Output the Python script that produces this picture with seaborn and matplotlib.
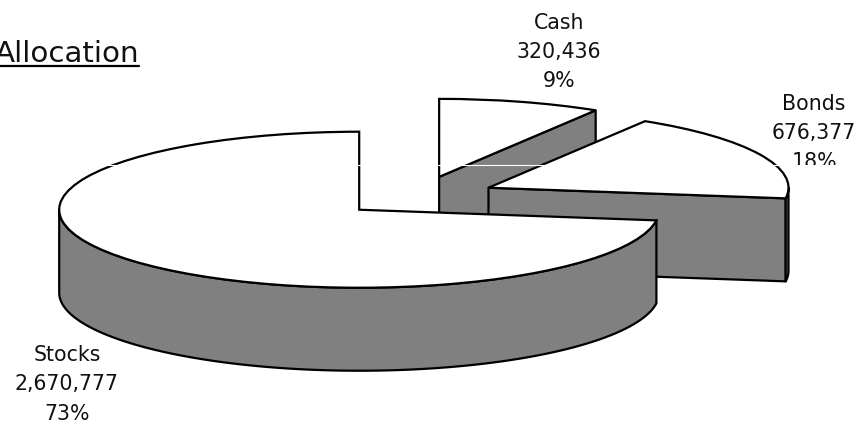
import numpy as np
import matplotlib
matplotlib.use('Agg')
import matplotlib.pyplot as plt
from matplotlib.lines import Line2D
from matplotlib.patches import Polygon
from matplotlib.transforms import Bbox
import seaborn as sns

# Data
names = ['Stocks', 'Bonds', 'Cash']
amounts = [2670777, 676377, 320436]
explode_frac = [0.26, 0.26, 0.26]

# Picture geometry, in pixels
W, H = 857, 421
RX, RY = 300, 78       # radius of the flattened pie
DEPTH = 83             # height of the slab
CX, CY = 418.0, 196.4  # pie centre before the slices move out

# Where each label sits (centre x, centre y)
label_pos = {'Stocks': (67, 384.5), 'Bonds': (814, 133), 'Cash': (559, 52)}

sns.set_theme(style='white')
plt.rcParams['font.family'] = ['DejaVu Sans']

fig = plt.figure(figsize=(W / 100, H / 100), dpi=100)
ax = fig.add_axes([0, 0, 1, 1])

wedges, _ = ax.pie(amounts, explode=explode_frac, startangle=90, radius=1,
                   colors=['white'] * len(amounts),
                   wedgeprops={'edgecolor': 'black', 'linewidth': 1.6})

# Flatten the pie: x and y get their own scale
ax.set_aspect('auto')
ax.set_xlim(-CX / RX, (W - CX) / RX)
ax.set_ylim((CY - H) / RY, CY / RY)
ax.axis('off')

depth = DEPTH / RY
side_style = {'facecolor': '#808080', 'edgecolor': 'black', 'linewidth': 1.6,
              'joinstyle': 'round'}

# Back slices first, so the front ones cover them
for i, wedge in enumerate(wedges):
    z = 2 * (len(wedges) - i)
    wedge.set_zorder(z + 1)
    cx, cy = wedge.center
    t1, t2 = wedge.theta1, wedge.theta2

    # Cut face at the start of the slice, when it looks at the viewer
    if np.sin(np.radians(t1 - 90)) < -1e-6:
        ex = cx + np.cos(np.radians(t1))
        ey = cy + np.sin(np.radians(t1))
        ax.add_patch(Polygon([(cx, cy), (ex, ey), (ex, ey - depth), (cx, cy - depth)],
                             zorder=z, **side_style))

    # Rim of the slice, only the front half of the circle
    theta = np.radians(np.linspace(t1, t2, 400))
    theta = theta[np.sin(theta) < 0]
    if len(theta) > 1:
        xs = cx + np.cos(theta)
        ys = cy + np.sin(theta)
        rim = np.column_stack([np.r_[xs, xs[::-1]], np.r_[ys, ys[::-1] - depth]])
        ax.add_patch(Polygon(rim, zorder=z, **side_style))

# Labels
total = sum(amounts)
for name, amount in zip(names, amounts):
    x, y = label_pos[name]
    txt = fig.text(x / W, 1 - y / H, f'{name}\n{amount:,}\n{amount / total:.0%}',
                   ha='center', va='center', fontsize=14.8, linespacing=1.58,
                   color='#111111', zorder=20)
    if name == 'Bonds':
        # the bottom of this label is cut off in the original
        txt.set_clip_box(Bbox([[0, H - 165], [W, H]]))
        txt.set_clip_on(True)

# Title runs off the left edge, underline drawn by hand
fig.text(139 / W, 1 - 62.5 / H, 'Allocation', ha='right', va='baseline',
         fontsize=21.2, color='#111111')
fig.add_artist(Line2D([0, 139 / W], [1 - 66 / H, 1 - 66 / H], color='black', lw=1.6))

# Thin white scan line across the whole picture
ax.axhline((CY - 164.5) / RY, color='white', lw=0.8, zorder=30)

plt.savefig('out.png', dpi=100)
plt.close()
